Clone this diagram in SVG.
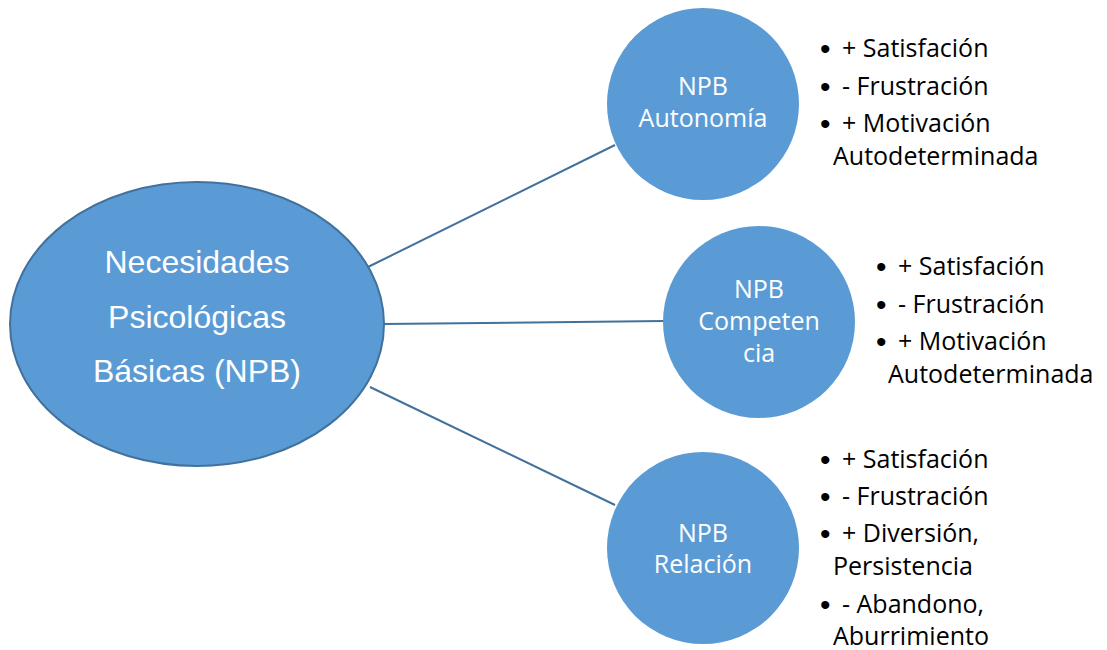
<svg xmlns="http://www.w3.org/2000/svg" width="1107" height="650" viewBox="0 0 1107 650">
<style>
.node{fill:#5B9BD5;stroke:#41719C;stroke-width:2}
.sub{fill:#5B9BD5;stroke:none}
.conn line{stroke:#41719C;stroke-width:2}
.big{font-family:"Liberation Sans",Arial,sans-serif;font-size:32px;fill:#fff;text-anchor:middle}
.ct{font-family:"Open Sans","Noto Sans",sans-serif;font-size:25px;fill:#fff;text-anchor:middle}
.bl{font-family:"Open Sans","Noto Sans",sans-serif;font-size:25px;fill:#000}
.bu{font-family:"Liberation Sans",Arial,sans-serif;font-size:30px}
</style>
<rect width="1107" height="650" fill="#fff"/>
<g id="connectors" class="conn">
<line x1="368" y1="267" x2="615" y2="145"/>
<line x1="383" y1="324" x2="664" y2="321"/>
<line x1="370" y1="387" x2="615" y2="505"/>
</g>
<g id="npb">
<ellipse class="node" cx="197" cy="324" rx="187" ry="142"/>
<text class="big" x="197" y="273">Necesidades</text>
<text class="big" x="197" y="328">Psicológicas</text>
<text class="big" x="197" y="382">Básicas (NPB)</text>
</g>
<g id="autonomia">
<circle class="sub" cx="703" cy="104" r="96"/>
<text class="ct" x="703" y="95">NPB</text>
<text class="ct" x="703" y="127">Autonomía</text>
</g>
<g id="competencia">
<circle class="sub" cx="759" cy="322" r="96"/>
<text class="ct" x="759" y="298">NPB</text>
<text class="ct" x="759" y="330">Competen</text>
<text class="ct" x="759" y="362">cia</text>
</g>
<g id="relacion">
<circle class="sub" cx="703" cy="548" r="96"/>
<text class="ct" x="703" y="542">NPB</text>
<text class="ct" x="703" y="573">Relación</text>
</g>
<g id="list-autonomia" class="bl">
<text x="820" y="59"><tspan class="bu">•</tspan><tspan x="842" y="57">+ Satisfación</tspan></text>
<text x="820" y="97"><tspan class="bu">•</tspan><tspan x="842" y="95">- Frustración</tspan></text>
<text x="820" y="134"><tspan class="bu">•</tspan><tspan x="842" y="132">+ Motivación</tspan></text>
<text x="833" y="165">Autodeterminada</text>
</g>
<g id="list-competencia" class="bl">
<text x="876" y="277"><tspan class="bu">•</tspan><tspan x="898" y="275">+ Satisfación</tspan></text>
<text x="876" y="315"><tspan class="bu">•</tspan><tspan x="898" y="313">- Frustración</tspan></text>
<text x="876" y="352"><tspan class="bu">•</tspan><tspan x="898" y="350">+ Motivación</tspan></text>
<text x="888" y="383">Autodeterminada</text>
</g>
<g id="list-relacion" class="bl">
<text x="820" y="470"><tspan class="bu">•</tspan><tspan x="842" y="468">+ Satisfación</tspan></text>
<text x="820" y="507"><tspan class="bu">•</tspan><tspan x="842" y="505">- Frustración</tspan></text>
<text x="820" y="544"><tspan class="bu">•</tspan><tspan x="842" y="542">+ Diversión,</tspan></text>
<text x="833" y="575">Persistencia</text>
<text x="820" y="615"><tspan class="bu">•</tspan><tspan x="842" y="613">- Abandono,</tspan></text>
<text x="833" y="645">Aburrimiento</text>
</g>
</svg>
